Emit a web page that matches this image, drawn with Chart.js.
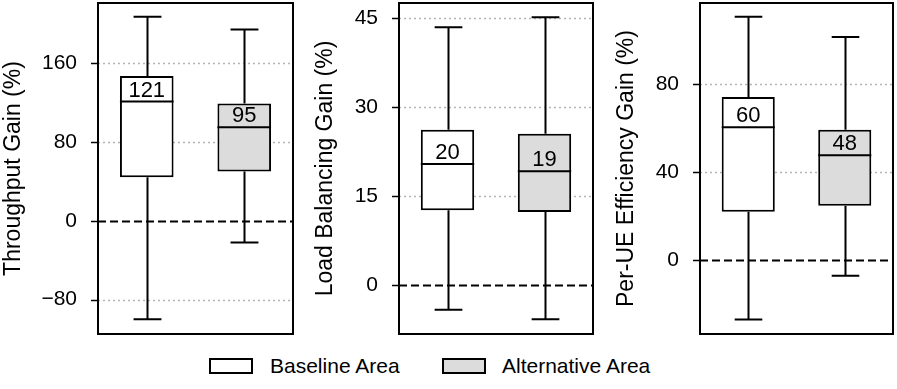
<!DOCTYPE html>
<html>
<head>
<meta charset="utf-8">
<script src="https://cdn.jsdelivr.net/npm/chart.js@4.4.1/dist/chart.umd.min.js"></script>
<style>
  html, body { margin:0; padding:0; background:#fff; }
  #wrap { position:relative; width:897px; height:389px; background:#fff; font-family:"Liberation Sans", Arial, sans-serif; }
  .panel { position:absolute; top:0; height:340px; }
  .leg { position:absolute; top:356px; height:20px; font-size:21px; line-height:20px; color:#000; white-space:nowrap; }
  .legbox { position:absolute; top:2px; width:40px; height:12px; border:2px solid #000; }
</style>
</head>
<body>
<div id="wrap">
  <div class="panel" style="left:0px;width:296px"><canvas id="c0"></canvas></div>
  <div class="panel" style="left:312px;width:284px"><canvas id="c1"></canvas></div>
  <div class="panel" style="left:613px;width:284px"><canvas id="c2"></canvas></div>
  <div class="leg" id="leg0" style="left:209px"><div class="legbox" style="left:0;background:#ffffff"></div><span style="position:absolute;left:61px;top:0">Baseline Area</span></div>
  <div class="leg" id="leg1" style="left:442px"><div class="legbox" style="left:0;background:#dcdcdc"></div><span style="position:absolute;left:60px;top:0">Alternative Area</span></div>
</div>
<script>
// ---- data ----
const categories = ['Baseline Area', 'Alternative Area'];
const boxColors = ['#ffffff', '#dcdcdc'];

const throughputTitle = 'Throughput Gain (%)';
const throughputLow = [-100, -22];
const throughputQ1 = [44, 50];
const throughputMedian = [121, 95];
const throughputQ3 = [147, 119];
const throughputHigh = [207, 194];
const throughputTicks = [-80, 0, 80, 160];
const throughputRange = [-115, 221];

const loadTitle = 'Load Balancing Gain (%)';
const loadLow = [-4.2, -5.8];
const loadQ1 = [12.6, 12.3];
const loadMedian = [20.4, 19.2];
const loadQ3 = [26.2, 25.5];
const loadHigh = [43.5, 45.2];
const loadTicks = [0, 15, 30, 45];
const loadRange = [-8.3, 47.6];

const effTitle = 'Per-UE Efficiency Gain (%)';
const effLow = [-27, -7.1];
const effQ1 = [22.0, 24.7];
const effMedian = [60.4, 47.6];
const effQ3 = [74.1, 59.2];
const effHigh = [110.6, 101.4];
const effTicks = [0, 40, 80];
const effRange = [-33.6, 116.8];

const FONT = '"Liberation Sans", Arial, sans-serif';

const boxPlugin = {
  id: 'boxExtras',
  beforeDatasetsDraw(chart) {
    const ctx = chart.ctx, y = chart.scales.y, a = chart.chartArea;
    const st = chart.options.plugins.boxExtras;
    ctx.save();
    st.ticks.forEach(v => {
      const py = Math.round(y.getPixelForValue(v)) + 0.5;
      ctx.beginPath();
      if (v === 0) {
        ctx.strokeStyle = '#000'; ctx.lineWidth = 2; ctx.setLineDash([8, 4]);
      } else {
        ctx.strokeStyle = '#b4b4b4'; ctx.lineWidth = 1.5; ctx.setLineDash([2, 3]);
      }
      ctx.moveTo(a.left, py); ctx.lineTo(a.right, py); ctx.stroke();
      ctx.setLineDash([]);
      ctx.strokeStyle = '#000'; ctx.lineWidth = 1.5;
      ctx.beginPath(); ctx.moveTo(a.left - 7, py); ctx.lineTo(a.left, py); ctx.stroke();
    });
    ctx.setLineDash([]);
    const meta = chart.getDatasetMeta(0);
    meta.data.forEach((el, i) => {
      const x = Math.round(el.x) + 0.5;
      const cap = el.width * 0.26;
      const pLow = y.getPixelForValue(st.low[i]);
      const pHigh = y.getPixelForValue(st.high[i]);
      const pQ1 = y.getPixelForValue(st.q1[i]);
      const pQ3 = y.getPixelForValue(st.q3[i]);
      ctx.strokeStyle = '#000'; ctx.lineWidth = 2;
      ctx.beginPath();
      ctx.moveTo(x, pQ3); ctx.lineTo(x, pHigh);
      ctx.moveTo(x - cap, pHigh); ctx.lineTo(x + cap, pHigh);
      ctx.moveTo(x, pQ1); ctx.lineTo(x, pLow);
      ctx.moveTo(x - cap, pLow); ctx.lineTo(x + cap, pLow);
      ctx.stroke();
    });
    ctx.restore();
  },
  afterDatasetsDraw(chart) {
    const ctx = chart.ctx, y = chart.scales.y;
    const st = chart.options.plugins.boxExtras;
    const meta = chart.getDatasetMeta(0);
    ctx.save();
    meta.data.forEach((el, i) => {
      const pm = y.getPixelForValue(st.median[i]);
      ctx.strokeStyle = '#000'; ctx.lineWidth = 2;
      ctx.beginPath();
      ctx.moveTo(el.x - el.width / 2, pm); ctx.lineTo(el.x + el.width / 2, pm);
      ctx.stroke();
      ctx.fillStyle = '#000';
      ctx.font = '22px ' + FONT;
      ctx.textAlign = 'center'; ctx.textBaseline = 'alphabetic';
      ctx.fillText(String(Math.round(st.median[i])), el.x, pm - 5);
    });
    ctx.restore();
  },
  afterDraw(chart) {
    const ctx = chart.ctx, a = chart.chartArea;
    ctx.save();
    ctx.strokeStyle = '#000'; ctx.lineWidth = 2;
    ctx.strokeRect(a.left, a.top, a.right - a.left, a.bottom - a.top);
    ctx.restore();
  }
};

function makePanel(id, title, low, q1, median, q3, high, ticks, range, axisWidth, padRight) {
  new Chart(document.getElementById(id), {
    type: 'bar',
    data: {
      labels: categories,
      datasets: [{
        data: q1.map((v, i) => [v, q3[i]]),
        backgroundColor: boxColors,
        borderColor: '#000',
        borderWidth: 2,
        borderSkipped: false,
        categoryPercentage: 0.55,
        barPercentage: 1.0
      }]
    },
    options: {
      responsive: true,
      maintainAspectRatio: false,
      animation: false,
      layout: { padding: { top: 3, bottom: 6, right: padRight, left: 0 } },
      plugins: {
        legend: { display: false },
        tooltip: { enabled: false },
        boxExtras: { low, q1, median, q3, high, ticks }
      },
      scales: {
        x: { type: 'category', display: false },
        y: {
          min: range[0], max: range[1],
          afterBuildTicks: s => { s.ticks = ticks.map(v => ({ value: v })); },
          afterFit: s => { s.width = axisWidth; s.paddingTop = 0; s.paddingBottom = 0; },
          grid: { display: false },
          border: { display: false },
          ticks: {
            color: '#000', font: { family: FONT, size: 21 }, padding: 13,
            callback: v => (v < 0 ? '\u2212' + Math.abs(v) : String(v))
          },
          title: { display: true, text: title, color: '#000', font: { family: FONT, size: 23 }, padding: { top: 0, bottom: 0 } }
        }
      }
    },
    plugins: [boxPlugin]
  });
}

makePanel('c0', throughputTitle, throughputLow, throughputQ1, throughputMedian, throughputQ3, throughputHigh, throughputTicks, throughputRange, 98, 3);
makePanel('c1', loadTitle, loadLow, loadQ1, loadMedian, loadQ3, loadHigh, loadTicks, loadRange, 87, 3);
makePanel('c2', effTitle, effLow, effQ1, effMedian, effQ3, effHigh, effTicks, effRange, 87, 4);
</script>
</body>
</html>
